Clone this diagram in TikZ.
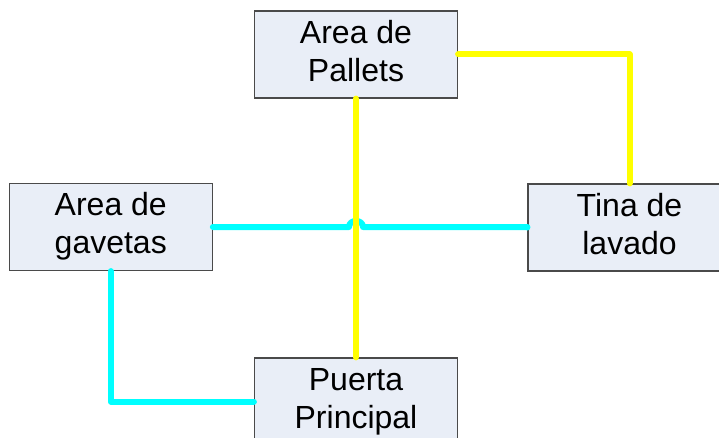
\documentclass[tikz,border=0pt]{standalone}
\usepackage{fontspec}
\setmainfont{Liberation Sans}
\usetikzlibrary{calc}
\definecolor{boxfill}{HTML}{E9EEF7}
\definecolor{boxborder}{HTML}{4A4A4A}
\definecolor{lineyellow}{HTML}{FFFF00}
\definecolor{linecyan}{HTML}{00FFFF}
\tikzset{
  areabox/.style={draw=boxborder, line width=1.2pt, fill=boxfill,
    minimum width=203pt, minimum height=87pt, inner sep=0pt,
    align=center, font=\fontsize{32}{38}\selectfont},
  yline/.style={draw=lineyellow, line width=6pt, line cap=round, line join=round},
  cline/.style={draw=linecyan, line width=6pt, line cap=round, line join=round}
}
\begin{document}
\begin{tikzpicture}[x=1pt,y=-1pt]
\clip (0,0) rectangle (719,438);
\fill[white] (0,0) rectangle (719,438);
\node[areabox] (pal) at (356,54.5) {\strut Area de\\\strut Pallets};
\node[areabox] (gav) at (110.75,227) {\strut Area de\\\strut gavetas};
\node[areabox] (tin) at (629.5,227.5) {\strut Tina de\\\strut lavado};
\node[areabox] (pue) at (356,401.5) {\strut Puerta\\\strut Principal};
% cyan connectors
\coordinate (hopA) at ($(pal.south |- gav.east)+(-7,0)$);
\coordinate (hopB) at ($(pal.south |- gav.east)+(7,0)$);
\draw[cline] (gav.east) -- (hopA) .. controls ($(hopA)+(0,-8)$) and ($(hopB)+(0,-8)$) .. (hopB) -- (tin.west |- gav.east) -- (tin.west);
\draw[cline] (gav.south) |- (pue.west);
% yellow connectors
\draw[yline] (pal.south) -- (pue.north);
\draw[yline] (pal.east) -| (tin.north);
\end{tikzpicture}
\end{document}
